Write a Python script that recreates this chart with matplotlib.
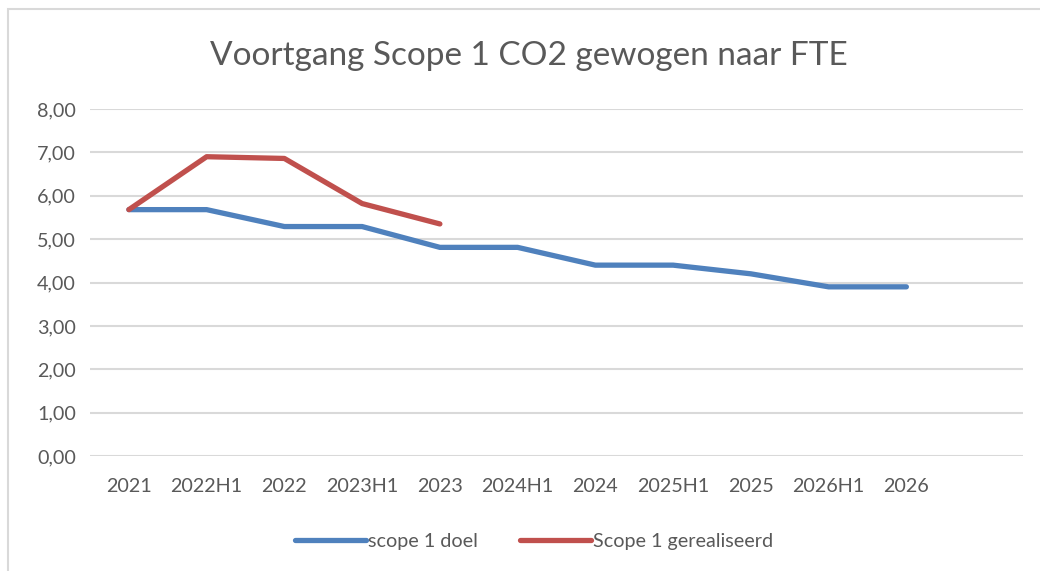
import matplotlib
matplotlib.use("Agg")
import matplotlib.pyplot as plt
from matplotlib.patches import Rectangle
from matplotlib.ticker import FuncFormatter

categories = ["2021", "2022H1", "2022", "2023H1", "2023", "2024H1", "2024",
              "2025H1", "2025", "2026H1", "2026", ""]
doel = [5.68, 5.68, 5.29, 5.29, 4.81, 4.81, 4.40, 4.40, 4.20, 3.90, 3.90]
gerealiseerd = [5.68, 6.90, 6.86, 5.82, 5.35]
y_ticks = [0, 1, 2, 3, 4, 5, 6, 7, 8]

plt.rcParams['font.family'] = ['Lato', 'DejaVu Sans']
txt = '#595959'

fig = plt.figure(figsize=(10.4, 5.71), dpi=100)
fig.patches.append(Rectangle((7.5/1040, -0.05), 1.1, (1 - 9.5/571) + 0.05,
                             transform=fig.transFigure, fill=False,
                             edgecolor='#d9d9d9', linewidth=1.5, zorder=0))

ax = fig.add_axes([90/1040, 1 - 456/571, (1023 - 90)/1040, (456 - 109)/571])
x = list(range(len(categories)))
ax.plot(x[:len(doel)], doel, color='#4f81bd', linewidth=3.8,
        solid_capstyle='round', solid_joinstyle='round', label='scope 1 doel', zorder=3)
ax.plot(x[:len(gerealiseerd)], gerealiseerd, color='#c0504d', linewidth=3.8,
        solid_capstyle='round', solid_joinstyle='round', label='Scope 1 gerealiseerd', zorder=4)

ax.set_xlim(-0.5, len(categories) - 0.5)
ax.set_ylim(0, 8)
ax.set_yticks(y_ticks)
ax.yaxis.set_major_formatter(FuncFormatter(lambda v, p: f"{v:.2f}".replace('.', ',')))
ax.set_xticks(x)
ax.set_xticklabels(categories)
ax.grid(axis='y', color='#d9d9d9', linewidth=1.5)
ax.set_axisbelow(True)
for s in ax.spines.values():
    s.set_visible(False)
ax.tick_params(axis='both', length=0, colors=txt, labelsize=14.2)
ax.tick_params(axis='y', pad=10)
ax.tick_params(axis='x', pad=16)

fig.text(529/1040, 1 - 56/571, "Voortgang Scope 1 CO2 gewogen naar FTE",
         ha='center', va='center', fontsize=24, color=txt)

leg = fig.legend(loc='center', bbox_to_anchor=(534/1040, 1 - 541/571), ncol=2,
                 frameon=False, fontsize=14.2, handlelength=3.6, handletextpad=0.1,
                 columnspacing=2.1)
for t in leg.get_texts():
    t.set_color(txt)

fig.savefig("out.png", dpi=100, facecolor='white')
